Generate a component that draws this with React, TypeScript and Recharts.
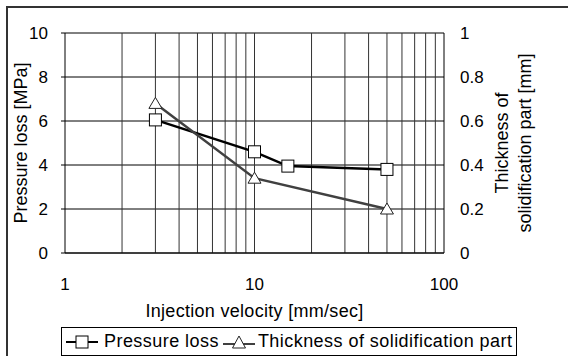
import React from 'react';
import { LineChart, Line, XAxis, YAxis, CartesianGrid, ReferenceLine, Label } from 'recharts';

const FONT = "'Liberation Sans', Arial, sans-serif";

// values
const pressureVelocity = [3, 10, 15, 50];
const pressureLoss = [6.05, 4.6, 3.95, 3.8];
const thicknessVelocity = [3, 10, 50];
const thickness = [0.68, 0.34, 0.2];

const xTicks = [1, 10, 100];
const leftTicks = [0, 2, 4, 6, 8, 10];
const rightTicks = [0, 0.2, 0.4, 0.6, 0.8, 1];
const logGrid = [2, 3, 4, 5, 6, 7, 8, 9, 10, 20, 30, 40, 50, 60, 70, 80, 90];

const seriesNames = ['Pressure loss', 'Thickness of solidification part'];

const pressureData = pressureVelocity.map((v, i) => ({ v, p: pressureLoss[i] }));
const thicknessData = thicknessVelocity.map((v, i) => ({ v, t: thickness[i] }));

const SquareDot = (props: any) => {
	const { cx, cy } = props;
	if (cx == null || cy == null) return null;
	return <rect key={props.key} x={cx - 6} y={cy - 6} width={12} height={12} fill='#fff' stroke='#000' strokeWidth={1} />;
};

const TriangleDot = (props: any) => {
	const { cx, cy } = props;
	if (cx == null || cy == null) return null;
	return (
		<polygon
			key={props.key}
			points={`${cx},${cy - 6} ${cx - 6.5},${cy + 5} ${cx + 6.5},${cy + 5}`}
			fill='#fff'
			stroke='#222'
			strokeWidth={1}
		/>
	);
};

const LeftLabel = (props: any) => {
	const { viewBox } = props;
	const cx = viewBox.x + 21;
	const cy = viewBox.y + viewBox.height / 2;
	return (
		<text x={cx} y={cy} transform={`rotate(-90 ${cx} ${cy})`} textAnchor='middle' dominantBaseline='central' fontSize={18} fill='#000' fontFamily={FONT}>
			Pressure loss [MPa]
		</text>
	);
};

const RightLabel = (props: any) => {
	const { viewBox } = props;
	const cy = viewBox.y + viewBox.height / 2;
	const x1 = viewBox.x + 58;
	const x2 = viewBox.x + 81;
	return (
		<g fontSize={18} fill='#000' fontFamily={FONT}>
			<text x={x1} y={cy} transform={`rotate(-90 ${x1} ${cy})`} textAnchor='middle' dominantBaseline='central'>
				Thickness of
			</text>
			<text x={x2} y={cy} transform={`rotate(-90 ${x2} ${cy})`} textAnchor='middle' dominantBaseline='central'>
				solidification part [mm]
			</text>
		</g>
	);
};

const BottomLabel = (props: any) => {
	const { viewBox } = props;
	const cx = viewBox.x + viewBox.width / 2;
	return (
		<text x={cx} y={viewBox.y + 58} textAnchor='middle' dominantBaseline='central' fontSize={18} letterSpacing={0.3} fill='#000' fontFamily={FONT}>
			Injection velocity [mm/sec]
		</text>
	);
};

export default function App() {
	const tickStyle = { fontSize: 17, fill: '#000', fontFamily: FONT };
	return (
		<div style={{ position: 'absolute', left: 0, top: 0, width: 568, height: 356, overflow: 'hidden', background: '#fff' }}>
			<div
				style={{
					position: 'absolute',
					left: 6,
					top: 6,
					width: 570,
					height: 370,
					border: '2px solid #333',
					boxSizing: 'border-box',
				}}
			/>
			<LineChart width={568} height={356} margin={{ top: 33, right: 0, bottom: 0, left: 0 }} style={{ position: 'absolute', left: 0, top: 0 }}>
				<CartesianGrid vertical={false} stroke='#000' strokeWidth={1} />
				{logGrid.map((g) => (
					<ReferenceLine key={`g-${g}`} x={g} stroke='#333' strokeWidth={1} />
				))}
				<XAxis
					dataKey='v'
					type='number'
					scale='log'
					domain={[1, 100]}
					ticks={xTicks}
					allowDataOverflow
					height={103}
					axisLine={{ stroke: '#000' }}
					tickLine={false}
					tickSize={0}
					tickMargin={25}
					tick={tickStyle}
					label={<Label content={(p: any) => <BottomLabel {...p} />} />}
				/>
				<YAxis
					type='number'
					domain={[0, 10]}
					ticks={leftTicks}
					width={65}
					axisLine={{ stroke: '#000' }}
					tickLine={{ stroke: '#000' }}
					tickSize={4}
					tickMargin={13}
					tick={tickStyle}
					label={<Label content={(p: any) => <LeftLabel {...p} />} />}
				/>
				<YAxis
					yAxisId='right'
					orientation='right'
					type='number'
					domain={[0, 1]}
					ticks={rightTicks}
					width={124}
					axisLine={{ stroke: '#000' }}
					tickLine={false}
					tickSize={0}
					tickMargin={16}
					tick={tickStyle}
					label={<Label content={(p: any) => <RightLabel {...p} />} />}
				/>
				<Line
					data={pressureData}
					dataKey='p'
					name={seriesNames[0]}
					stroke='#000'
					strokeWidth={2.5}
					dot={SquareDot}
					isAnimationActive={false}
				/>
				<Line
					yAxisId='right'
					data={thicknessData}
					dataKey='t'
					name={seriesNames[1]}
					stroke='#404040'
					strokeWidth={2.5}
					dot={TriangleDot}
					isAnimationActive={false}
				/>
			</LineChart>
			<div
				style={{
					position: 'absolute',
					left: 61,
					top: 327,
					width: 456,
					height: 29,
					border: '1px solid #000',
					boxSizing: 'border-box',
					background: '#fff',
					display: 'flex',
					alignItems: 'center',
					fontFamily: FONT,
					fontSize: 18,
					letterSpacing: 0.45,
					color: '#000',
					whiteSpace: 'nowrap',
				}}
			>
				<svg width={36} height={16} style={{ marginLeft: 2 }}>
					<line x1={2} y1={8} x2={34} y2={8} stroke='#000' strokeWidth={2} />
					<rect x={12} y={2} width={12} height={12} fill='#fff' stroke='#000' strokeWidth={1} />
				</svg>
				<span style={{ marginLeft: 4 }}>{seriesNames[0]}</span>
				<svg width={36} height={16} style={{ marginLeft: 2 }}>
					<line x1={2} y1={10} x2={34} y2={10} stroke='#404040' strokeWidth={2} />
					<polygon points='18,2 11.5,14 24.5,14' fill='#fff' stroke='#222' strokeWidth={1} />
				</svg>
				<span style={{ marginLeft: 1 }}>{seriesNames[1]}</span>
			</div>
		</div>
	);
}
